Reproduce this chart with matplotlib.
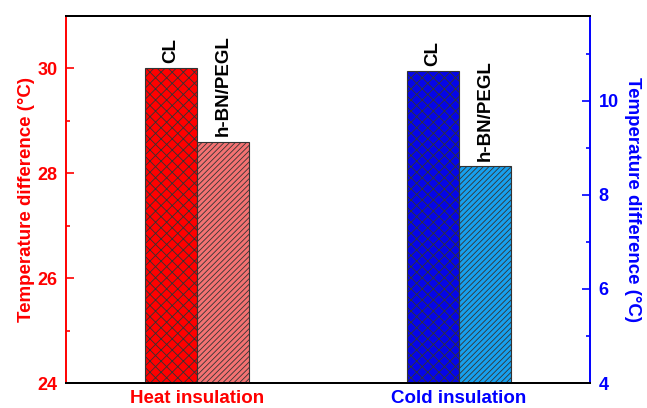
import matplotlib
matplotlib.use("Agg")
import matplotlib.pyplot as plt
import numpy as np

plt.rcParams['font.family'] = ['Liberation Sans', 'DejaVu Sans']
plt.rcParams['font.weight'] = 'bold'
plt.rcParams['hatch.linewidth'] = 0.6

# data
groups = ["Heat insulation", "Cold insulation"]
samples = ["CL", "h-BN/PEGL"]
heat_vals = [30.0, 28.6]
cold_vals = [10.62, 8.61]

heat_colors = ["#ff0000", "#f47272"]
cold_colors = ["#0505e8", "#17a0ee"]
hatches = ["xxx", "//////"]
left_col = "#ff0000"
right_col = "#0000ff"

group_pos = [1, 3]
width = 0.4
offsets = [-width / 2, width / 2]

fig, ax = plt.subplots(figsize=(6.47, 4.08), dpi=100)
fig.subplots_adjust(left=0.102, right=0.912, bottom=0.061, top=0.961)
ax2 = ax.twinx()

for i, name in enumerate(samples):
    ax.bar(group_pos[0] + offsets[i], heat_vals[i], width, bottom=0,
           color=heat_colors[i], edgecolor="#333333", linewidth=0.8,
           hatch=hatches[i], zorder=2)
    ax.annotate(name, (group_pos[0] + offsets[i], heat_vals[i]),
                xytext=(0, 4), textcoords="offset points", rotation=90,
                ha="center", va="bottom", fontsize=13.5, fontweight="bold")
    ax2.bar(group_pos[1] + offsets[i], cold_vals[i], width, bottom=0,
            color=cold_colors[i], edgecolor="#333333", linewidth=0.8,
            hatch=hatches[i], zorder=2)
    ax2.annotate(name, (group_pos[1] + offsets[i], cold_vals[i]),
                 xytext=(0, 4), textcoords="offset points", rotation=90,
                 ha="center", va="bottom", fontsize=13.5, fontweight="bold")

ax.set_xlim(0, 4)
ax.set_ylim(24, 31)
ax2.set_ylim(4, 11.8)

ax.set_yticks([24, 26, 28, 30])
ax.set_yticks([25, 27, 29], minor=True)
ax2.set_yticks([4, 6, 8, 10])
ax2.set_yticks([5, 7, 9, 11], minor=True)

ax.set_xticks(group_pos)
ax.set_xticklabels(groups, fontsize=13.5, fontweight="bold")
for lbl, c in zip(ax.get_xticklabels(), [left_col, right_col]):
    lbl.set_color(c)
ax.tick_params(axis="x", length=0, pad=5)

ax.tick_params(axis="y", which="both", direction="in", colors=left_col,
               labelsize=13, pad=6, width=1.2)
ax.tick_params(axis="y", which="major", length=6)
ax.tick_params(axis="y", which="minor", length=3)
ax2.tick_params(axis="y", which="both", direction="in", colors=right_col,
                labelsize=13, pad=6, width=1.2)
ax2.tick_params(axis="y", which="major", length=6)
ax2.tick_params(axis="y", which="minor", length=3)

for t in ax.get_yticklabels() + ax2.get_yticklabels():
    t.set_fontweight("bold")

ax.set_ylabel("Temperature difference (°C)", color=left_col, fontsize=13.5,
              fontweight="bold", labelpad=2)
ax2.set_ylabel("Temperature difference (°C)", color=right_col, fontsize=13.5,
               fontweight="bold", rotation=270, labelpad=16)

for a in (ax, ax2):
    for s in a.spines.values():
        s.set_linewidth(1.4)
    a.spines["top"].set_color("black")
    a.spines["bottom"].set_color("black")
ax.spines["left"].set_color(left_col)
ax2.spines["left"].set_visible(False)
ax2.spines["right"].set_color(right_col)
ax.spines["right"].set_visible(False)

fig.savefig("out.png", dpi=100)
